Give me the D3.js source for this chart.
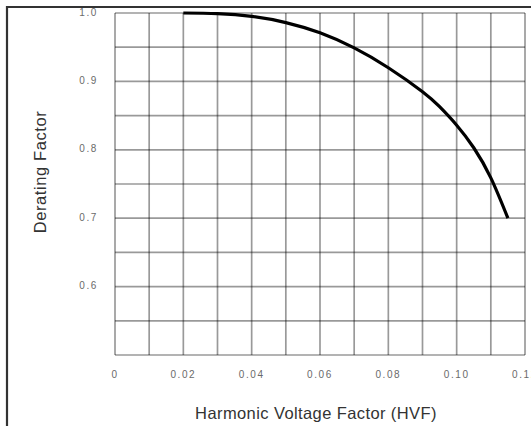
<!DOCTYPE html>
<html>
<head>
<meta charset="utf-8">
<script src="https://cdn.jsdelivr.net/npm/d3@7"></script>
<style>
  body { margin: 0; background: #fff; }
  svg { display: block; font-family: "Liberation Sans", Arial, sans-serif; }
</style>
</head>
<body>
<div id="container"></div>
<script>
// Valores
var hvf = [0.02, 0.03, 0.04, 0.05, 0.06, 0.07, 0.08, 0.09, 0.095, 0.10, 0.105, 0.11, 0.115]
var derating = [1.0, 0.999, 0.995, 0.986, 0.971, 0.949, 0.92, 0.885, 0.863, 0.836, 0.803, 0.759, 0.70]

var xTicks = [0, 0.02, 0.04, 0.06, 0.08, 0.10, 0.12]
var xTickLabels = ["0", "0.02", "0.04", "0.06", "0.08", "0.10", "0.12"]
var yTicks = [0.6, 0.7, 0.8, 0.9, 1.0]
var xGrid = d3.range(0, 13).map(function(i) { return i / 100 })
var yGrid = d3.range(0, 11).map(function(i) { return 0.5 + i * 0.05 })

var width = 531, height = 426
var margin = { top: 13, left: 115, right: 6, bottom: 71 }

var svg = d3.select("#container")
  .append("svg")
  .attr("width", width)
  .attr("height", height)

// Escalas
var x = d3.scaleLinear()
  .domain([0, 0.12])
  .range([margin.left, width - margin.right])

var y = d3.scaleLinear()
  .domain([0.5, 1.0])
  .range([height - margin.bottom, margin.top])

// Moldura (só em cima e à esquerda)
svg.append("path")
  .attr("d", "M7,426 L7,7 L531,7")
  .attr("fill", "none")
  .attr("stroke", "#333")
  .attr("stroke-width", 2.2)

// Grade
svg.selectAll(".vgrid")
  .data(xGrid)
  .enter().append("line")
  .attr("class", "vgrid")
  .attr("x1", function(d) { return x(d) })
  .attr("x2", function(d) { return x(d) })
  .attr("y1", y(0.5))
  .attr("y2", y(1.0))
  .attr("stroke", "#000")
  .attr("stroke-opacity", 0.4)
  .attr("stroke-width", 1.7)

svg.selectAll(".hgrid")
  .data(yGrid)
  .enter().append("line")
  .attr("class", "hgrid")
  .attr("x1", x(0))
  .attr("x2", x(0.12))
  .attr("y1", function(d) { return y(d) })
  .attr("y2", function(d) { return y(d) })
  .attr("stroke", "#000")
  .attr("stroke-opacity", 0.4)
  .attr("stroke-width", 1.7)

// Curva
var line = d3.line()
  .x(function(d) { return x(d[0]) })
  .y(function(d) { return y(d[1]) })
  .curve(d3.curveNatural)

svg.append("path")
  .datum(d3.zip(hvf, derating))
  .attr("d", line)
  .attr("fill", "none")
  .attr("stroke", "#000")
  .attr("stroke-width", 3.2)

// Rótulos dos eixos
svg.selectAll(".xlabel")
  .data(xTicks)
  .enter().append("text")
  .attr("x", function(d) { return x(d) })
  .attr("y", 374)
  .attr("dy", "0.35em")
  .attr("text-anchor", "middle")
  .attr("font-size", 10)
  .attr("letter-spacing", 1.6)
  .attr("fill", "#6a6a6a")
  .text(function(d, i) { return xTickLabels[i] })

svg.selectAll(".ylabel")
  .data(yTicks)
  .enter().append("text")
  .attr("x", 98)
  .attr("y", function(d) { return y(d) - 1 })
  .attr("dy", "0.35em")
  .attr("text-anchor", "end")
  .attr("font-size", 10)
  .attr("letter-spacing", 1.6)
  .attr("fill", "#6a6a6a")
  .text(function(d) { return d.toFixed(1) })

svg.append("text")
  .text("Harmonic Voltage Factor (HVF)")
  .attr("x", 316)
  .attr("y", 413)
  .attr("dy", "0.35em")
  .attr("text-anchor", "middle")
  .attr("font-size", 16.5)
  .attr("letter-spacing", 0.4)
  .attr("fill", "#333")

svg.append("text")
  .text("Derating Factor")
  .attr("transform", "translate(40,172) rotate(-90)")
  .attr("dy", "0.35em")
  .attr("text-anchor", "middle")
  .attr("font-size", 16.5)
  .attr("letter-spacing", 0.6)
  .attr("fill", "#333")
</script>
</body>
</html>
